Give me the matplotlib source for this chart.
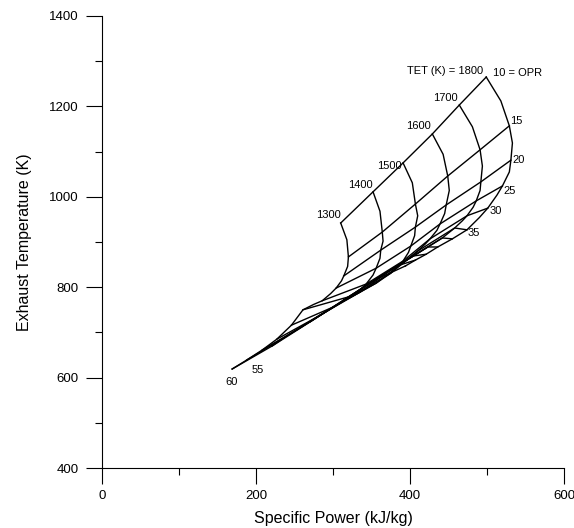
import matplotlib
matplotlib.use('Agg')
import matplotlib.pyplot as plt
from matplotlib.ticker import MultipleLocator

plt.rcParams['font.family'] = ['Liberation Sans', 'DejaVu Sans']

tet = [1300, 1400, 1500, 1600, 1700, 1800]
# OPR points (extra half steps where the curves bend)
opr_pts = [10, 12.5, 15, 17.5, 20, 22.5, 25, 27.5, 30, 32.5, 35, 40, 45, 50, 55, 60]
opr = [10, 15, 20, 25, 30, 35, 40, 45, 50, 55, 60]

# specific power (kJ/kg), one row per TET, columns follow opr_pts
power = [
    [310, 318, 320, 319, 314, 311, 304, 297, 286, 275, 261, 246, 227, 208, 188, 169],
    [352, 361, 364, 365, 362, 361, 356, 352, 343, 336, 325, 300, 277, 257, 238, 221],
    [391, 403, 407, 410, 407, 406, 401, 398, 391, 385, 375, 356, 335, 314, 292, 270],
    [429, 443, 449, 451, 447, 445, 439, 435, 426, 420, 410, 394, 375, 356, 336, 314],
    [464, 481, 491, 494, 492, 491, 486, 482, 474, 468, 458, 442, 423, 404, 383, 357],
    [499, 518, 529, 533, 531, 529, 520, 513, 501, 490, 474, 455, 436, 421, 407, 394],
]
# exhaust temperature (K)
exhaust = [
    [942, 905, 867, 846, 825, 814, 798, 786, 770, 762, 750, 716, 685, 661, 639, 619],
    [1011, 968, 922, 902, 882, 864, 842, 827, 807, 796, 781, 756, 732, 710, 690, 670],
    [1075, 1031, 984, 958, 933, 914, 891, 877, 858, 847, 831, 809, 789, 770, 747, 723],
    [1139, 1094, 1046, 1014, 982, 963, 940, 926, 907, 896, 880, 858, 838, 818, 796, 772],
    [1203, 1155, 1104, 1068, 1033, 1014, 991, 977, 958, 947, 931, 909, 889, 869, 847, 818],
    [1265, 1212, 1157, 1119, 1081, 1055, 1024, 1004, 975, 954, 927, 907, 889, 873, 860, 847],
]

tet_text = ['1300', '1400', '1500', '1600', '1700', 'TET (K) = 1800']
opr_text = {10: '10 = OPR', 15: '15', 20: '20', 25: '25', 30: '30', 35: '35', 55: '55', 60: '60'}


def main():
    fig = plt.figure(figsize=(5.74, 5.28), dpi=100)
    ax = fig.add_axes([0.1777, 0.1136, 0.8049, 0.8561])

    # constant TET curves
    for i in range(len(tet)):
        ax.plot(power[i], exhaust[i], color='black', lw=1.0)
    # constant OPR lines
    for p in opr:
        k = opr_pts.index(p)
        ax.plot([row[k] for row in power], [row[k] for row in exhaust], color='black', lw=1.0)

    # labels at the OPR=10 end of each TET curve
    offs = [(-9, 5.5), (-9, 5), (-10, -2), (-10, 5.5), (-10, 5), (-2, 4.3)]
    for i, t in enumerate(tet_text):
        ha = 'right' if i == len(tet) - 1 else 'center'
        ax.annotate(t, (power[i][0], exhaust[i][0]), xytext=offs[i], textcoords='offset points',
                    ha=ha, va='center', fontsize=8)

    # OPR labels: high TET end for low OPR, low TET end for 55/60
    opr_offs = {10: (5, 3), 15: (5, 3.6), 20: (5.5, 0), 25: (5.4, -3.6), 30: (5.8, -2.2),
                35: (5, -2.2), 55: (7.6, -7.2), 60: (-0.7, -9.4)}
    for p, t in opr_text.items():
        k = opr_pts.index(p)
        i = -1 if p < 40 else 0
        ha = 'left' if p == 10 else 'center'
        ax.annotate(t, (power[i][k], exhaust[i][k]), xytext=opr_offs[p], textcoords='offset points',
                    ha=ha, va='center', fontsize=8)

    ax.set_xlim(0, 600)
    ax.set_ylim(400, 1400)
    ax.xaxis.set_major_locator(MultipleLocator(200))
    ax.xaxis.set_minor_locator(MultipleLocator(100))
    ax.yaxis.set_major_locator(MultipleLocator(200))
    ax.yaxis.set_minor_locator(MultipleLocator(100))
    ax.spines['top'].set_visible(False)
    ax.spines['right'].set_visible(False)
    ax.tick_params(which='major', length=11.5, width=0.8, labelsize=9.5)
    ax.tick_params(which='minor', length=5, width=0.8)
    ax.tick_params(axis='y', pad=5.5)
    ax.tick_params(axis='x', pad=4)

    ax.set_xlabel('Specific Power (kJ/kg)', fontsize=11.5, va='baseline')
    ax.set_ylabel('Exhaust Temperature (K)', fontsize=11.5, va='center')
    ax.xaxis.set_label_coords(0.5, -0.121)
    ax.yaxis.set_label_coords(-0.167, 0.5)

    fig.savefig('out.png', dpi=100)


if __name__ == "__main__":
    main()
